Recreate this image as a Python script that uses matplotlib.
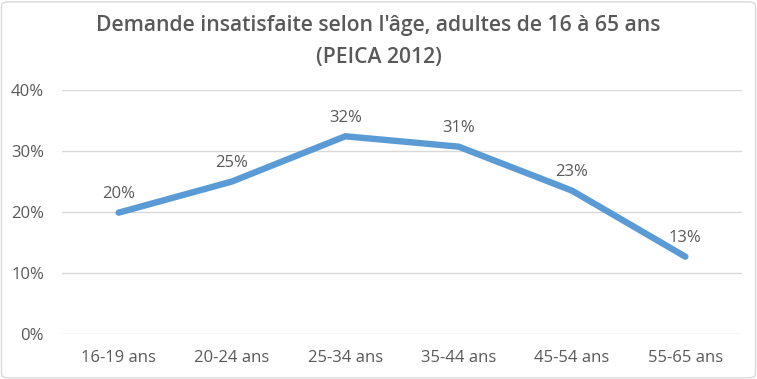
import matplotlib as mpl
import matplotlib.pyplot as plt
from matplotlib.patches import FancyBboxPatch
import numpy as np

# données
categories = ['16-19 ans', '20-24 ans', '25-34 ans', '35-44 ans', '45-54 ans', '55-65 ans']
valeurs = [19.9, 25.0, 32.4, 30.7, 23.5, 12.7]
etiquettes = ['20%', '25%', '32%', '31%', '23%', '13%']
yticks = [0, 10, 20, 30, 40]
titre = ["Demande insatisfaite selon l'âge, adultes de 16 à 65 ans", "(PEICA 2012)"]

gris = '#595959'
bleu = '#5B9BD5'

mpl.rcParams['font.family'] = ['Open Sans', 'DejaVu Sans']

fig = plt.figure(figsize=(7.57, 3.79), dpi=100)
ax = fig.add_axes([62/757, 0.118, 680/757, 0.645])

x = np.arange(len(categories))
ax.plot(x, valeurs, color=bleu, lw=4.6, solid_capstyle='round', solid_joinstyle='round', zorder=3)
for xi, v, t in zip(x, valeurs, etiquettes):
    ax.annotate(t, (xi, v), xytext=(0, 13.5), textcoords='offset points',
                ha='center', va='center', fontsize=12, color=gris)

ax.set_xlim(-0.5, len(categories) - 0.5)
ax.set_ylim(0, 40)
ax.set_yticks(yticks)
ax.set_yticklabels([f'{t}%' for t in yticks])
ax.set_xticks(x)
ax.set_xticklabels(categories)
ax.tick_params(length=0, labelsize=12, colors=gris)
ax.tick_params(axis='x', pad=11)
ax.tick_params(axis='y', pad=13)
ax.grid(axis='y', color='#D9D9D9', lw=1)
ax.set_axisbelow(True)
for s in ax.spines.values():
    s.set_visible(False)

fig.text(0.5, 1 - 25/379, titre[0], ha='center', va='center', fontsize=15.2,
         fontweight='semibold', color=gris)
fig.text(0.5, 1 - 57/379, titre[1], ha='center', va='center', fontsize=15.2,
         fontweight='semibold', color=gris)

# cadre
fig.patches.append(FancyBboxPatch((0.002, 0.003), 0.996, 0.992, boxstyle='round,pad=0,rounding_size=0.01',
                                  transform=fig.transFigure, fill=False, ec='#D9D9D9', lw=1))

plt.savefig('out.png', dpi=100)
